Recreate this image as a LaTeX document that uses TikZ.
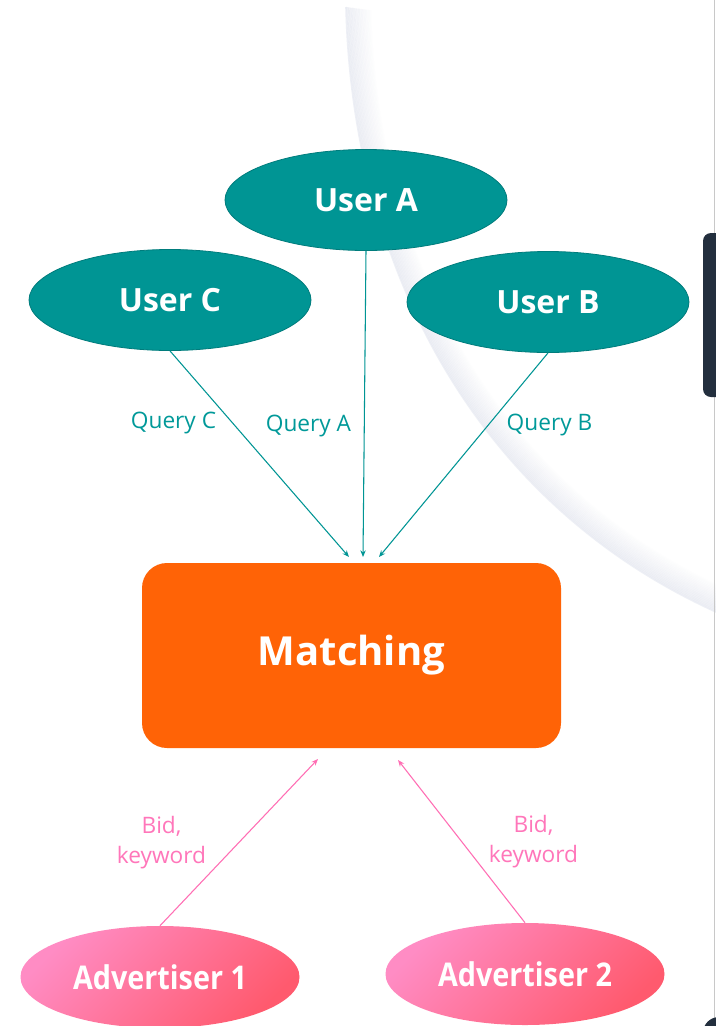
\documentclass[tikz,border=0pt]{standalone}
\usepackage{fontspec}
\setmainfont{Open Sans}
\newfontfamily\advfont[FakeStretch=0.88]{Open Sans}
\usetikzlibrary{shapes.geometric,arrows.meta}

\definecolor{tealfill}{RGB}{0,149,148}
\definecolor{tealline}{RGB}{0,124,124}
\definecolor{tealtext}{RGB}{0,153,153}
\definecolor{matchorange}{RGB}{255,99,6}
\definecolor{bidpink}{RGB}{255,110,180}
\definecolor{bidtext}{RGB}{255,118,186}
\definecolor{advlight}{RGB}{255,140,196}
\definecolor{advdark}{RGB}{255,90,110}
\definecolor{arcgrey}{RGB}{214,218,232}
\definecolor{navdark}{RGB}{35,47,62}
\definecolor{edgegrey}{RGB}{200,200,200}

\begin{document}
\begin{tikzpicture}[x=0.75pt,y=0.75pt,yscale=-1,xscale=1,
  user/.style={ellipse, draw=tealline, fill=tealfill, text=white, line width=0.6pt,
    minimum width=211.5pt, minimum height=75.75pt, inner sep=0pt,
    font=\fontsize{24}{28}\selectfont\bfseries},
  advertiser/.style={ellipse, left color=advlight, right color=advdark, shading angle=45,
    text=white, minimum width=209.25pt, minimum height=76.5pt, inner sep=0pt,
    font=\advfont\fontsize{24.5}{28}\selectfont\bfseries},
  matchbox/.style={fill=matchorange, rounded corners=18.75pt, text=white,
    minimum width=314.25pt, minimum height=138.75pt, inner sep=0pt,
    font=\fontsize{30}{34}\selectfont\bfseries},
  query/.style={draw=tealfill, line width=0.8pt, -{Stealth[length=5pt,width=4pt]}},
  bid/.style={draw=bidpink, line width=0.8pt, -{Stealth[length=5pt,width=4pt]}},
  querytext/.style={text=tealtext, inner sep=0.75pt, font=\fontsize{17}{20}\selectfont},
  bidtext/.style={text=bidtext, inner sep=0.75pt, align=center,
    font=\fontsize{17}{22.5}\selectfont}
]
\useasboundingbox (0,0) rectangle (716,1026);
\fill[white] (0,0) rectangle (716,1026);

%Shape: background arc
\foreach \k in {0,...,17}
  \draw[arcgrey, line width=1.2pt, opacity={0.42-0.023*\k}, scale around={1-0.0026*\k:(900,80)}]
    (346,7) .. controls (352,260) and (470,500) .. (716,612) ;
%Shape: side bar
\draw[edgegrey, line width=0.75pt] (714,0) -- (714,1026) ;
\fill[navdark, rounded corners=6pt] (703,233) rectangle (726,397) ;
\fill[navdark] (719,1033) circle [radius=16] ;

%Shape: Ellipse
\node (userA) at (366,200) [user] {User A};
%Shape: Ellipse
\node (userC) at (170,300) [user] {User C};
%Shape: Ellipse
\node (userB) at (548,302) [user] {User B};
%Shape: Rectangle
\node (match) at (351.5,655.5) [matchbox] {Matching};
%Shape: Ellipse
\node (adv1) at (160,977) [advertiser] {Advertiser 1};
%Shape: Ellipse
\node (adv2) at (525,974) [advertiser] {Advertiser 2};

\coordinate (tipC) at (349,557);
\coordinate (tipA) at (363,557);
\coordinate (tipB) at (379,557);
\coordinate (tip1) at (318,759);
\coordinate (tip2) at (398,760);

%Straight Lines
\draw[query] (userC.south) -- (tipC) ;
\draw[query] (userA.south) -- (tipA) ;
\draw[query] (userB.south) -- (tipB) ;
\draw[bid] (adv1.north) -- (tip1) ;
\draw[bid] (adv2.north) -- (tip2) ;

% Text Node
\node (labC) at (173.5,423) [querytext] {Query C};
% Text Node
\node (labA) at (308.5,426) [querytext] {Query A};
% Text Node
\node (labB) at (549.5,425) [querytext] {Query B};
% Text Node
\node (lab1) at (161.5,843) [bidtext] {Bid,\\keyword};
% Text Node
\node (lab2) at (533.5,842) [bidtext] {Bid,\\keyword};

\end{tikzpicture}
\end{document}
